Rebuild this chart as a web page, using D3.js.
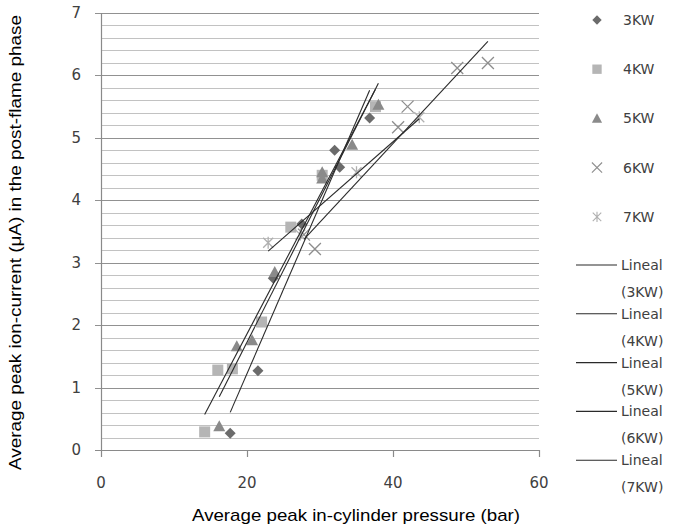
<!DOCTYPE html>
<html>
<head>
<meta charset="utf-8">
<script src="https://cdn.jsdelivr.net/npm/d3@7"></script>
<style>
  body { margin: 0; background: #fff; }
  .tick-label { font-family: "DejaVu Sans", Verdana, sans-serif; font-size: 15px; fill: #404040; }
  .axis-title { font-family: "Liberation Sans", Arial, sans-serif; font-size: 17px; fill: #000; }
  .legend-label { font-family: "DejaVu Sans", Verdana, sans-serif; font-size: 14px; fill: #404040; }
</style>
</head>
<body>
<svg width="683" height="526"></svg>
<script>
// data: [pressure (bar), ion current (uA)]
var s3KW = [[17.7, 0.27], [21.5, 1.27], [23.6, 2.75], [27.5, 3.62], [32.0, 4.80], [32.7, 4.53], [36.8, 5.32]];
var s4KW = [[14.2, 0.29], [16.0, 1.28], [18.0, 1.30], [22.0, 2.05], [26.0, 3.57], [30.3, 4.40], [37.6, 5.50]];
var s5KW = [[16.2, 0.38], [18.6, 1.66], [20.7, 1.76], [23.8, 2.85], [30.3, 4.45], [30.3, 4.35], [34.4, 4.89], [38.0, 5.53]];
var s6KW = [[27.8, 3.45], [29.3, 3.22], [40.7, 5.17], [42.0, 5.50], [48.8, 6.12], [53.0, 6.20]];
var s7KW = [[22.9, 3.32], [27.3, 3.45], [35.0, 4.45], [43.6, 5.33]];

var seriesNames = ['3KW', '4KW', '5KW', '6KW', '7KW'];
var xTicks = [0, 20, 40, 60];
var yTicks = [0, 1, 2, 3, 4, 5, 6, 7];

var svg = d3.select('svg');
var plot = {l: 101, r: 539, t: 13, b: 450};

var x = d3.scaleLinear().domain([0, 60]).range([plot.l, plot.r]);
var y = d3.scaleLinear().domain([0, 7]).range([plot.b, plot.t]);

var series = [
  {name: '3KW', data: s3KW, shape: 'diamond', color: '#6b6b6b'},
  {name: '4KW', data: s4KW, shape: 'square', color: '#b5b5b5'},
  {name: '5KW', data: s5KW, shape: 'triangle', color: '#8a8a8a'},
  {name: '6KW', data: s6KW, shape: 'cross', color: '#8e8e8e'},
  {name: '7KW', data: s7KW, shape: 'star', color: '#b0b0b0'}
];

// minor + major horizontal grid
var minor = d3.range(0, 7.001, 0.2).filter(function(v) { return Math.abs(v - Math.round(v)) > 0.01; });
svg.append('g').selectAll('line')
  .data(minor).enter().append('line')
  .attr('x1', plot.l).attr('x2', plot.r)
  .attr('y1', function(d) { return Math.round(y(d)) + 0.5; })
  .attr('y2', function(d) { return Math.round(y(d)) + 0.5; })
  .style('stroke', '#c2c2c2').style('stroke-width', 1.2);

svg.append('g').selectAll('line')
  .data(yTicks.slice(1)).enter().append('line')
  .attr('x1', plot.l - 6).attr('x2', plot.r)
  .attr('y1', function(d) { return Math.round(y(d)) + 0.5; })
  .attr('y2', function(d) { return Math.round(y(d)) + 0.5; })
  .style('stroke', '#919191').style('stroke-width', 1.2);

// axes lines
svg.append('line')
  .attr('x1', plot.l - 6).attr('x2', plot.r)
  .attr('y1', plot.b + 0.5).attr('y2', plot.b + 0.5)
  .style('stroke', '#8a8a8a').style('stroke-width', 1.2);
svg.append('line')
  .attr('x1', plot.l + 0.5).attr('x2', plot.l + 0.5)
  .attr('y1', plot.t).attr('y2', plot.b + 7)
  .style('stroke', '#8a8a8a').style('stroke-width', 1.2);
svg.append('g').selectAll('line')
  .data(xTicks.slice(1)).enter().append('line')
  .attr('x1', function(d) { return Math.round(x(d)) + 0.5; })
  .attr('x2', function(d) { return Math.round(x(d)) + 0.5; })
  .attr('y1', plot.b).attr('y2', plot.b + 7)
  .style('stroke', '#8a8a8a').style('stroke-width', 1.2);

// tick labels
svg.append('g').selectAll('text')
  .data(yTicks).enter().append('text')
  .attr('class', 'tick-label')
  .attr('x', 81).attr('y', function(d) { return y(d) + 5; })
  .attr('text-anchor', 'end')
  .text(function(d) { return d; });

svg.append('g').selectAll('text')
  .data(xTicks).enter().append('text')
  .attr('class', 'tick-label')
  .attr('x', function(d) { return x(d); }).attr('y', 488)
  .attr('text-anchor', 'middle')
  .text(function(d) { return d; });

// axis titles
svg.append('text')
  .attr('class', 'axis-title')
  .attr('x', 192).attr('y', 521)
  .attr('textLength', 328).attr('lengthAdjust', 'spacingAndGlyphs')
  .text('Average peak in-cylinder pressure (bar)');

svg.append('text')
  .attr('class', 'axis-title')
  .attr('transform', 'translate(21,470) rotate(-90)')
  .attr('textLength', 455).attr('lengthAdjust', 'spacingAndGlyphs')
  .text('Average peak ion-current (\u03bcA) in the post-flame phase');

// marker drawing
function drawMarker(g, shape, color) {
  if (shape === 'diamond') {
    g.append('path').attr('d', 'M0,-5.5L5.5,0L0,5.5L-5.5,0Z').style('fill', color);
  } else if (shape === 'square') {
    g.append('rect').attr('x', -5.5).attr('y', -5.5).attr('width', 11).attr('height', 11).style('fill', color);
  } else if (shape === 'triangle') {
    g.append('path').attr('d', 'M0,-6L6,5L-6,5Z').style('fill', color);
  } else if (shape === 'cross') {
    g.append('path').attr('d', 'M-6,-6L6,6M-6,6L6,-6').style('stroke', color).style('stroke-width', 1.3).style('fill', 'none');
  } else if (shape === 'star') {
    g.append('path').attr('d', 'M-5,-5L5,5M-5,5L5,-5M0,-6L0,6').style('stroke', color).style('stroke-width', 1.3).style('fill', 'none');
  }
}

// least squares fit, drawn across each series' x range (Excel linear trendline)
function fit(data) {
  var mx = d3.mean(data, function(d) { return d[0]; });
  var my = d3.mean(data, function(d) { return d[1]; });
  var sxy = d3.sum(data, function(d) { return (d[0] - mx) * (d[1] - my); });
  var sxx = d3.sum(data, function(d) { return (d[0] - mx) * (d[0] - mx); });
  var k = sxy / sxx;
  var ext = d3.extent(data, function(d) { return d[0]; });
  return ext.map(function(v) { return [v, my + k * (v - mx)]; });
}

var line = d3.line()
  .x(function(d) { return x(d[0]); })
  .y(function(d) { return y(d[1]); });

series.forEach(function(s) {
  var g = svg.append('g');
  s.data.forEach(function(d) {
    var m = g.append('g').attr('transform', 'translate(' + x(d[0]) + ',' + y(d[1]) + ')');
    drawMarker(m, s.shape, s.color);
  });
});

series.forEach(function(s) {
  svg.append('path')
    .datum(fit(s.data))
    .attr('d', line)
    .style('fill', 'none')
    .style('stroke', '#2a2a2a')
    .style('stroke-width', 1.1);
});

// legend: markers
var legend = svg.append('g');
series.forEach(function(s, i) {
  var ly = 20 + i * 49.2;
  var m = legend.append('g').attr('transform', 'translate(597,' + ly + ') scale(0.85)');
  drawMarker(m, s.shape, s.color);
  legend.append('text').attr('class', 'legend-label')
    .attr('x', 623).attr('y', ly + 5).text(s.name);
});

// legend: trendlines
seriesNames.forEach(function(n, i) {
  var ly = 265 + i * 48.8;
  legend.append('line')
    .attr('x1', 576).attr('x2', 617).attr('y1', ly).attr('y2', ly)
    .style('stroke', '#2a2a2a').style('stroke-width', 1.1);
  legend.append('text').attr('class', 'legend-label')
    .attr('x', 621).attr('y', ly + 5).text('Lineal');
  legend.append('text').attr('class', 'legend-label')
    .attr('x', 621).attr('y', ly + 32).text('(' + n + ')');
});
</script>
</body>
</html>
